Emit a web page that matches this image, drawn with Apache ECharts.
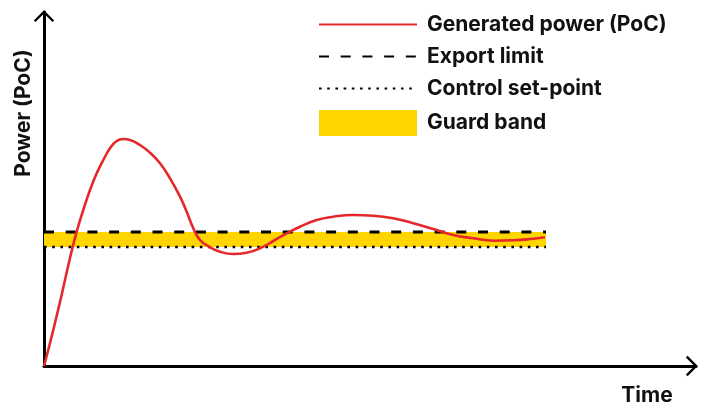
<!DOCTYPE html>
<html>
<head>
<meta charset="utf-8">
<script src="https://cdn.jsdelivr.net/npm/echarts@6/dist/echarts.min.js"></script>
<style>html,body{margin:0;padding:0;background:#fff}#c{width:703px;height:403px}</style>
</head>
<body>
<div id="c"></div>
<script>
// Arbitrary units (time, power at point of connection)
const timeValues = [0, 6, 16, 26, 32.7, 39.3, 46, 52.7, 59.3, 66, 72.7, 79.3, 86, 96, 106, 116, 126, 136, 142.7, 149.3, 156, 165, 176, 189.3, 202.7, 216, 229.3, 242.7, 256, 272.7, 289.3, 309.3, 329.3, 349.3, 369.3, 389.3, 409.3, 429.3, 449.3, 469.3, 489.3, 501];
const powerValues = [0, 23, 64, 108, 134.3, 156, 176, 192.7, 206, 217.7, 225, 227, 226, 221, 213.3, 202.7, 187.7, 169.3, 154.3, 137.7, 126, 119.3, 114.3, 112, 113.3, 117.7, 125, 132.7, 139.3, 146, 149.3, 151, 150.3, 147.7, 142.7, 137, 131, 127.7, 125.3, 125.7, 127.3, 128.7];
const exportLimit = 134;
const controlSetPoint = 119;
const bandStart = 0;
const bandEnd = 502;
const timeMax = 652;
const powerMax = 354;
const seriesNames = ['Generated power (PoC)', 'Export limit', 'Control set-point', 'Guard band'];
const axisTitles = { x: 'Time', y: 'Power (PoC)' };

const FONT = 'Inter';
const FS = 21;
const arrowPath = 'path://M10,8.3 L20.2,18.5 L18.5,20.2 L10,11.7 L1.5,20.2 L-0.2,18.5 Z M9.9,0 L10.1,0 L10,0.2 Z';

const curve = timeValues.map((t, i) => [t, powerValues[i]]);
const flat = v => [[bandStart, v], [bandEnd, v]];

const chart = echarts.init(document.getElementById('c'), null, { renderer: 'canvas' });
const axisCommon = {
  type: 'value',
  axisLine: { show: true, lineStyle: { color: '#000', width: 3 }, symbol: ['none', arrowPath], symbolSize: [20.4, 20.2] },
  axisTick: { show: false }, axisLabel: { show: false }, splitLine: { show: false }
};
const hideSym = { opacity: 0 };
chart.setOption({
  animation: false,
  grid: { left: 44, right: 7, top: 12, bottom: 37 },
  xAxis: Object.assign({ min: 0, max: timeMax }, axisCommon),
  yAxis: Object.assign({ min: 0, max: powerMax }, axisCommon),
  legend: {
    orient: 'vertical', left: 313, top: 9,
    itemWidth: 98, itemHeight: 26, itemGap: 11,
    textStyle: { fontFamily: FONT, fontWeight: 700, fontSize: FS, color: '#111', padding: [0, 0, 0, 5] },
    data: [
      { name: seriesNames[0], itemStyle: hideSym },
      { name: seriesNames[1], itemStyle: hideSym },
      { name: seriesNames[2], itemStyle: hideSym },
      { name: seriesNames[3], icon: 'rect' }
    ]
  },
  graphic: [
    { type: 'text', x: 24, y: 113, rotation: Math.PI / 2,
      style: { text: axisTitles.y, fontFamily: FONT, fontWeight: 700, fontSize: FS, fill: '#111', align: 'center', verticalAlign: 'middle' } },
    { type: 'text', x: 647, y: 396,
      style: { text: axisTitles.x, fontFamily: FONT, fontWeight: 700, fontSize: FS, fill: '#111', align: 'center', verticalAlign: 'middle' } }
  ],
  series: [
    { name: seriesNames[3], type: 'line', data: flat(exportLimit), symbol: 'none',
      color: '#FFD500', itemStyle: { color: '#FFD500' },
      lineStyle: { width: 0, opacity: 0 }, z: 1,
      markArea: { silent: true, itemStyle: { color: '#FFD500', opacity: 1 },
        data: [[{ coord: [bandStart, controlSetPoint] }, { coord: [bandEnd, exportLimit] }]] } },
    { name: seriesNames[2], type: 'line', data: flat(controlSetPoint), symbol: 'none', color: '#000',
      lineStyle: { color: '#000', width: 2.6, type: [2.6, 5.6] }, z: 3 },
    { name: seriesNames[1], type: 'line', data: flat(exportLimit), symbol: 'none', color: '#000',
      lineStyle: { color: '#000', width: 3, type: [10, 11.7] }, z: 3 },
    { name: seriesNames[0], type: 'line', data: curve, symbol: 'none', smooth: 0.5, color: '#E4282C',
      lineStyle: { color: '#E4282C', width: 2.6 }, z: 4 }
  ]
});
</script>
</body>
</html>
